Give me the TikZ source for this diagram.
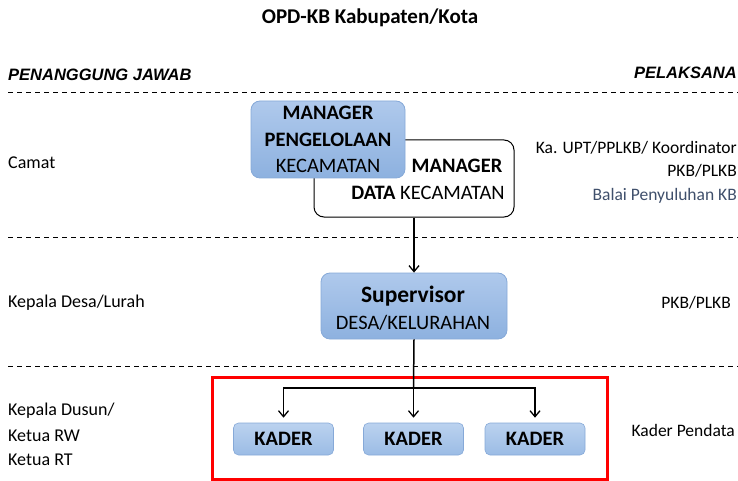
\documentclass[tikz,border=0pt]{standalone}
\usepackage{fontspec}
\setmainfont{Carlito}
\newfontfamily\hdrfont{Liberation Sans}
\usetikzlibrary{arrows.meta}
\definecolor{bfill1}{HTML}{AFC9EC}
\definecolor{bfill2}{HTML}{8DB1DF}
\definecolor{bdraw}{HTML}{86A9D8}
\definecolor{kfill1}{HTML}{BBD2EF}
\definecolor{kfill2}{HTML}{9BBCE5}
\definecolor{balai}{HTML}{3F4F6B}
\begin{document}
\begin{tikzpicture}[x=1pt,y=-1pt,
  bluebox/.style={draw=bdraw,line width=0.8pt,rounded corners=9pt,top color=bfill1,bottom color=bfill2,inner sep=0pt},
  kaderbox/.style={draw=bdraw,line width=0.6pt,rounded corners=5pt,top color=kfill1,bottom color=kfill2,inner sep=0pt,minimum width=100pt,minimum height=32pt,font=\fontsize{20.5}{20.5}\selectfont\bfseries},
  whitebox/.style={draw=black,line width=1pt,rounded corners=10pt,fill=white,inner sep=0pt},
  boxtxt/.style={inner sep=0pt,anchor=base,font=\fontsize{20.5}{20.5}\selectfont},
  side/.style={inner sep=0pt,font=\fontsize{18}{18}\selectfont},
  rside/.style={inner sep=0pt,font=\fontsize{17.5}{17.5}\selectfont},
  hdr/.style={inner sep=0pt,font=\hdrfont\fontsize{16.5}{16.5}\selectfont\bfseries\itshape},
  sep/.style={dashed,dash pattern=on 5pt off 4pt,line width=0.9pt},
  arr/.style={line width=1.5pt,-{Straight Barb[length=6pt,width=10pt,line width=1.3pt]}}
]
\useasboundingbox (0,0) rectangle (738,481);
% title
\node[inner sep=0pt,font=\fontsize{21}{21}\selectfont\bfseries] (title) at (370,18) {OPD-KB Kabupaten/Kota};
% headers
\node[hdr,anchor=west] (pj) at (8,75) {PENANGGUNG JAWAB};
\node[hdr,anchor=east] (pl) at (737,73) {PELAKSANA};
% separators
\draw[sep] (8,92) -- (738,92);
\draw[sep] (8,237) -- (738,237);
\draw[sep] (8,366) -- (738,366);
% red frame
\draw[red,line width=3pt] (212,377) rectangle (607,479);
% manager data box
\node[whitebox,minimum width=200pt,minimum height=77pt] (data) at (414,178.5) {};
\node[boxtxt] (dt1) at (457,173) {\bfseries MANAGER};
\node[boxtxt] (dt2) at (428,200) {\textbf{DATA} KECAMATAN};
% manager pengelolaan box
\node[bluebox,minimum width=154pt,minimum height=77pt] (mp) at (328,139.5) {};
\node[boxtxt] (mp1) at (328,119.5) {\bfseries MANAGER};
\node[boxtxt] (mp2) at (328,146.5) {\bfseries PENGELOLAAN};
\node[boxtxt] (mp3) at (328,173) {KECAMATAN};
% supervisor
\node[bluebox,minimum width=186pt,minimum height=66pt] (sup) at (414,306) {};
\node[boxtxt,font=\fontsize{23.5}{23.5}\selectfont\bfseries] (sp1) at (413,302.5) {Supervisor};
\node[boxtxt] (sp2) at (413,329) {DESA/KELURAHAN};
% kaders
\node[kaderbox] (k1) at (283.5,439) {KADER};
\node[kaderbox] (k2) at (413.5,439) {KADER};
\node[kaderbox] (k3) at (535,439) {KADER};
% connectors
\draw[arr] (data.south) -- (sup.north);
\coordinate (split) at (413.5,388);
\draw[line width=1.5pt] (sup.south) -- (split);
\draw[arr,shorten >=5pt] (split) -- (k2.north);
\draw[arr,shorten >=5pt] (split) -| (k1.north);
\draw[arr,shorten >=5pt] (split) -| (k3.north);
% left labels
\node[side,anchor=west] (l1) at (8,163) {Camat};
\node[side,anchor=west] (l2) at (8,303) {Kepala Desa/Lurah};
\node[side,anchor=west] (l3) at (8,411) {Kepala Dusun/};
\node[side,anchor=west] (l4) at (8,436) {Ketua RW};
\node[side,anchor=west] (l5) at (8,460) {Ketua RT};
% right labels
\node[rside,anchor=east] (r1) at (737,148) {Ka. UPT/PPLKB/ Koordinator};
\node[rside,anchor=east] (r2) at (737,171) {PKB/PLKB};
\node[rside,anchor=east,text=balai] (r3) at (737,196) {Balai Penyuluhan KB};
\node[rside,anchor=east] (r4) at (731,303) {PKB/PLKB};
\node[rside,anchor=east] (r5) at (735,430) {Kader Pendata};
\end{tikzpicture}
\end{document}
